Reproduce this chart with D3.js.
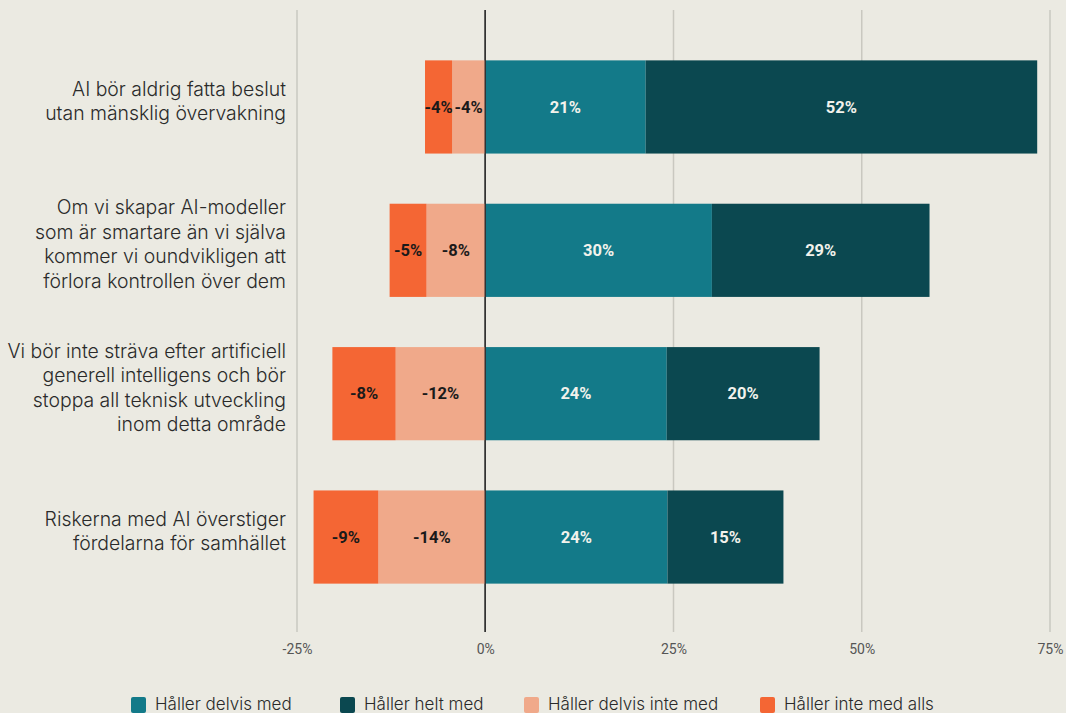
<!DOCTYPE html>
<html><head><meta charset="utf-8">
<script src="https://cdn.jsdelivr.net/npm/d3@7"></script>
<style>
body{margin:0;background:#EBEAE2;}
svg{display:block;}
</style></head>
<body><svg id="c" width="1066" height="713"></svg>
<script>
const categories = [
  ["AI bör aldrig fatta beslut","utan mänsklig övervakning"],
  ["Om vi skapar AI-modeller","som är smartare än vi själva","kommer vi oundvikligen att","förlora kontrollen över dem"],
  ["Vi bör inte sträva efter artificiell","generell intelligens och bör","stoppa all teknisk utveckling","inom detta område"],
  ["Riskerna med AI överstiger","fördelarna för samhället"]
];
const seriesNames = ["Håller delvis med","Håller helt med","Håller delvis inte med","Håller inte med alls"];
const delvisMed = [21.3, 30.1, 24.1, 24.2];
const heltMed = [52.0, 28.9, 20.3, 15.4];
const delvisInte = [-4.4, -7.8, -11.9, -14.2];
const inteAlls = [-3.6, -4.9, -8.4, -8.6];
const ticks = [-25, 0, 25, 50, 75];
const colors = ["#137A89","#0B4850","#F0A98A","#F46634"];

const svg = d3.select("#c");
const x = d3.scaleLinear().domain([-25,75]).range([297,1050]);
const y = d3.scaleBand().domain(d3.range(categories.length)).range([36,608]).paddingInner(0.35).paddingOuter(0.17);

// grid
svg.append("g").selectAll("line").data(ticks).join("line")
  .attr("x1",d=>x(d)).attr("x2",d=>x(d)).attr("y1",10).attr("y2",632)
  .attr("stroke",d=>d===0?"#333":"#C9C8C0").attr("stroke-width",1.5);

// axis labels
const ax = d3.axisBottom(x).tickValues(ticks).tickFormat(d=>d+"%").tickSize(0).tickPadding(0);
const axg = svg.append("g").attr("transform","translate(0,649)").call(ax);
axg.select(".domain").remove();
axg.selectAll("text").attr("font-family","Roboto, sans-serif").attr("font-size",14).attr("fill","#555").attr("dy","0.35em").attr("y",0);

// segments
const rows = categories.map((c,i)=>{
  const segs = [];
  segs.push({s:0, x0:0, x1:delvisMed[i], v:delvisMed[i]});
  segs.push({s:1, x0:delvisMed[i], x1:delvisMed[i]+heltMed[i], v:heltMed[i]});
  segs.push({s:2, x0:delvisInte[i], x1:0, v:delvisInte[i]});
  segs.push({s:3, x0:delvisInte[i]+inteAlls[i], x1:delvisInte[i], v:inteAlls[i]});
  return segs.map(s=>Object.assign(s,{i}));
});
const all = rows.flat();
svg.append("g").selectAll("rect").data(all).join("rect")
  .attr("x",d=>x(d.x0)).attr("width",d=>x(d.x1)-x(d.x0))
  .attr("y",d=>y(d.i)).attr("height",y.bandwidth())
  .attr("fill",d=>colors[d.s]);
svg.append("line").attr("x1",x(0)).attr("x2",x(0)).attr("y1",10).attr("y2",632).attr("stroke","#333").attr("stroke-width",1.5);

svg.append("g").selectAll("text").data(all).join("text")
  .attr("x",d=>(x(d.x0)+x(d.x1))/2).attr("y",d=>y(d.i)+y.bandwidth()/2)
  .attr("dy","0.35em").attr("text-anchor","middle")
  .attr("font-family","Roboto, sans-serif").attr("font-weight",700).attr("font-size",16.5)
  .attr("fill",d=>d.s<2?"#F2F2EC":"#1a1a1a")
  .text(d=>Math.round(d.v)+"%");

// category labels
const cl = svg.append("g");
categories.forEach((lines,i)=>{
  const cy = y(i)+y.bandwidth()/2 - 6;
  const lh = 24.5;
  const t = cl.append("text").attr("text-anchor","end")
    .attr("font-family","Inter, 'Noto Sans', sans-serif").attr("font-weight",300).attr("font-size",19.4).attr("fill","#2a2a2a");
  lines.forEach((l,k)=>{
    t.append("tspan").attr("x",286).attr("y",cy+(k-(lines.length-1)/2)*lh).attr("dy","0.35em").text(l);
  });
});

// legend
const legX = [131,340,524,760];
const lg = svg.append("g").selectAll("g").data(seriesNames).join("g")
  .attr("transform",(d,i)=>`translate(${legX[i]},697)`);
lg.append("rect").attr("width",15).attr("height",16).attr("rx",2).attr("fill",(d,i)=>colors[i]);
lg.append("text").attr("x",24).attr("y",7).attr("dy","0.35em")
  .attr("font-family","Inter, 'Noto Sans', sans-serif").attr("font-weight",300).attr("font-size",17).attr("fill","#2a2a2a")
  .text(d=>d);
</script></body></html>
